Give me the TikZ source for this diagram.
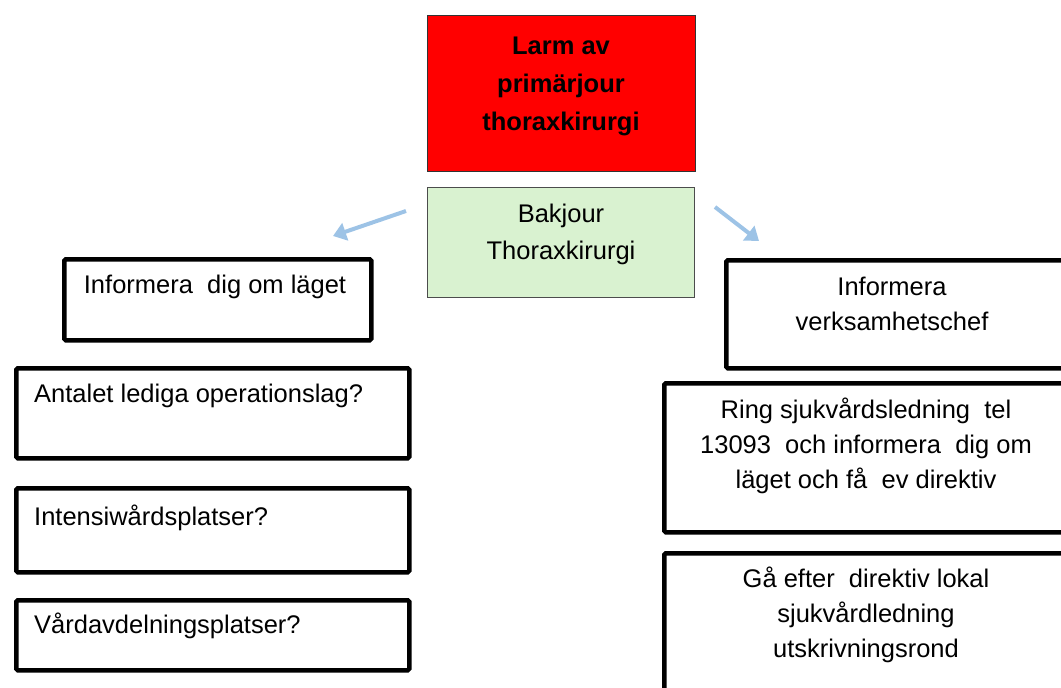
\documentclass[tikz,border=0pt]{standalone}
\usepackage{fontspec}
\setmainfont{Liberation Sans}
\usetikzlibrary{positioning,arrows.meta}
\definecolor{larmred}{RGB}{255,0,0}
\definecolor{bakgreen}{RGB}{217,242,208}
\definecolor{pilblue}{RGB}{157,195,230}

\begin{document}
\begin{tikzpicture}[x=1pt,y=-1pt,
    ruta/.style={draw=black, line width=4.5pt, rounded corners=1.5pt, anchor=north west, inner sep=0pt},
    txt/.style={font=\fontsize{25.5}{35}\selectfont, align=center, inner sep=0pt},
    pil/.style={draw=pilblue, line width=4pt, -{Triangle[length=13pt,width=18pt]}}]
  \useasboundingbox (0,0) rectangle (1061,688);
  \clip (0,0) rectangle (1061,688);
  % topp
  \node[anchor=north west, draw=black!80, line width=0.8pt, fill=larmred, minimum width=268pt, minimum height=156pt] (larm) at (427,15) {};
  \node[txt, font=\fontsize{25.5}{38}\selectfont\bfseries] (larmtxt) at (561,86) {Larm av\\primärjour\\thoraxkirurgi};
  \node[anchor=north west, draw=black!70, line width=0.8pt, fill=bakgreen, minimum width=267pt, minimum height=110pt] (bak) at (427,187) {};
  \node[txt, font=\fontsize{25.5}{37}\selectfont] (baktxt) at (561,234) {Bakjour\\Thoraxkirurgi};
  % pilar
  \coordinate (vstart) at (406,211);
  \coordinate (vslut) at (333,236);
  \coordinate (hstart) at (715,207);
  \coordinate (hslut) at (759,241);
  \draw[pil] (vstart) -- (vslut);
  \draw[pil] (hstart) -- (hslut);
  % vänster
  \node[ruta, minimum width=307pt, minimum height=81pt] (info) at (62,257) {};
  \node[txt] (infotxt) at (215,287) {Informera~ dig om läget};
  \node[ruta, minimum width=393pt, minimum height=90pt] (antal) at (14,366) {};
  \node[txt, anchor=west] (antaltxt) at (34,396) {Antalet lediga operationslag?};
  \node[ruta, minimum width=393pt, minimum height=84pt] (intens) at (14,486) {};
  \node[txt, anchor=west] (intenstxt) at (34,518) {Intensiwårdsplatser?};
  \node[ruta, minimum width=393pt, minimum height=70pt] (vard) at (14,598) {};
  \node[txt, anchor=west] (vardtxt) at (34,626) {Vårdavdelningsplatser?};
  % höger
  \node[ruta, minimum width=345pt, minimum height=108pt] (chef) at (724,258) {};
  \node[txt] (cheftxt) at (892,304) {Informera\\verksamhetschef};
  \node[ruta, minimum width=410pt, minimum height=149pt] (ring) at (662,381) {};
  \node[txt] (ringtxt) at (866,446) {Ring sjukvårdsledning~ tel\\13093~ och informera~ dig om\\läget och få~ ev direktiv};
  \node[ruta, minimum width=410pt, minimum height=160pt] (ga) at (662,551) {};
  \node[txt] (gatxt) at (866,615) {Gå efter~ direktiv lokal\\sjukvårdledning\\utskrivningsrond};
\end{tikzpicture}
\end{document}
